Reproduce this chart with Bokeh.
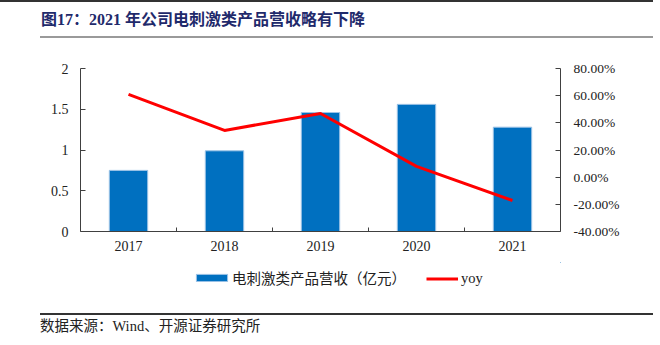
from bokeh.plotting import figure
from bokeh.models import (Range1d, LinearAxis, FixedTicker, PrintfTickFormatter,
                          Legend, LegendItem, Div, ColumnDataSource)
from bokeh.layouts import column
from bokeh.embed import file_html
from bokeh.resources import INLINE

# ---- data ----
years = ["2017", "2018", "2019", "2020", "2021"]
revenue = [0.75, 0.99, 1.46, 1.56, 1.28]          # 电刺激类产品营收（亿元）
yoy = [61.0, 34.4, 46.9, 7.9, -17.2]              # yoy, %
left_ticks = [0, 0.5, 1, 1.5, 2]
left_labels = ["0", "0.5", "1", "1.5", "2"]
right_ticks = [-40, -20, 0, 20, 40, 60, 80]

title_text = "图17：2021 年公司电刺激类产品营收略有下降"
source_text = "数据来源：Wind、开源证券研究所"
bar_label = "电刺激类产品营收（亿元）"
line_label = "yoy"

BAR_FILL = "#0070C0"
BAR_EDGE = "#9DC3E6"
LINE_RED = "#FF0000"

xs = list(range(len(years)))
src = ColumnDataSource(dict(x=xs, rev=revenue, yoy=yoy))

SERIF = "Liberation Serif"
CJK = "'Liberation Serif', 'Noto Sans CJK SC'"

p = figure(width=660, height=217, x_range=Range1d(-0.5, len(years) - 0.5),
           y_range=Range1d(0, 2), output_backend="svg", toolbar_location=None,
           min_border_left=80, min_border_right=100, min_border_top=23,
           min_border_bottom=31)
p.outline_line_color = None
p.xgrid.visible = False
p.ygrid.visible = False
p.extra_y_ranges = {"yoy": Range1d(-40, 80)}

bars = p.vbar(x="x", top="rev", width=0.4, source=src, fill_color=BAR_FILL,
              line_color=BAR_EDGE, line_width=1)
ln = p.line(x="x", y="yoy", source=src, y_range_name="yoy", line_color=LINE_RED,
            line_width=3)

AX = "#404040"
# x axis
xa = p.xaxis[0]
xa.ticker = FixedTicker(ticks=xs, minor_ticks=[i + 0.5 for i in xs[:-1]])
xa.major_label_overrides = {i: y for i, y in zip(xs, years)}
xa.major_tick_in = 0
xa.major_tick_out = 0
xa.minor_tick_in = 4
xa.minor_tick_out = 0
xa.minor_tick_line_color = AX
xa.axis_line_color = AX
xa.major_label_standoff = 9
xa.major_label_text_font = SERIF
xa.major_label_text_font_size = "14px"
xa.major_label_text_color = "#222222"

# left axis
ya = p.yaxis[0]
ya.ticker = FixedTicker(ticks=left_ticks)
ya.major_label_overrides = {t: l for t, l in zip(left_ticks, left_labels)}
ya.major_tick_in = 5
ya.major_tick_out = 0
ya.minor_tick_line_color = None
ya.axis_line_color = AX
ya.major_tick_line_color = AX
ya.major_label_standoff = 12
ya.major_label_text_font = SERIF
ya.major_label_text_font_size = "14px"
ya.major_label_text_color = "#222222"

# right axis
ra = LinearAxis(y_range_name="yoy", ticker=FixedTicker(ticks=right_ticks),
                formatter=PrintfTickFormatter(format="%.2f%%"))
ra.major_tick_in = 5
ra.major_tick_out = 0
ra.minor_tick_line_color = None
ra.axis_line_color = AX
ra.major_tick_line_color = AX
ra.major_label_standoff = 13
ra.major_label_text_font = SERIF
ra.major_label_text_font_size = "13.5px"
ra.major_label_text_color = "#222222"
p.add_layout(ra, "right")

# ---- legend strip: a small figure whose frame is aligned with the main one ----
# its own renderers share the data but lie outside its (empty) view window
p2 = figure(width=660, height=33, output_backend="svg", toolbar_location=None,
            x_axis_location=None, y_axis_location=None, min_border=0,
            x_range=Range1d(-10, -9), y_range=Range1d(-10, -9))
p2.outline_line_color = None
p2.grid.visible = False
lb = p2.vbar(x="x", top="rev", width=0.4, source=src, fill_color=BAR_FILL,
             line_color=BAR_EDGE, line_width=1)
ll = p2.line(x="x", y="yoy", source=src, line_color=LINE_RED, line_width=3)

common = dict(orientation="horizontal", padding=0, margin=0, border_line_color=None,
              background_fill_alpha=0, label_height=20,
              label_text_font=CJK, label_text_font_size="14.5px",
              label_text_color="#222222")
FRAME_LEFT = 80
leg1 = Legend(items=[LegendItem(label=bar_label, renderers=[lb])],
              location=(192 - FRAME_LEFT, 7), glyph_width=39, glyph_height=9,
              label_standoff=1, **common)
leg2 = Legend(items=[LegendItem(label=line_label, renderers=[ll])],
              location=(426 - FRAME_LEFT, 7), glyph_width=32, glyph_height=9,
              label_standoff=3, **common)
p2.add_layout(leg1, "center")
p2.add_layout(leg2, "center")

top_html = (
    '<div style="position:relative;width:660px;height:45px;">'
    '<div style="position:absolute;left:0;top:0;width:653px;height:2px;background:#333;"></div>'
    f'<div style="position:absolute;left:41px;top:10px;white-space:nowrap;font-family:{CJK};'
    f'font-weight:bold;font-size:16px;line-height:20px;color:#1F2A6B;">{title_text}</div>'
    '<div style="position:absolute;left:40px;top:36px;width:613px;height:2px;background:#9a9a9a;"></div>'
    '</div>'
)
bottom_html = (
    '<div style="position:relative;width:660px;height:50px;">'
    '<div style="position:absolute;left:40px;top:18px;width:613px;height:2px;background:#333;"></div>'
    f'<div style="position:absolute;left:40px;top:22px;white-space:nowrap;font-family:{CJK};'
    f'font-size:14.5px;line-height:18px;color:#222;">{source_text}</div>'
    '</div>'
)
top = Div(text=top_html, width=660, height=45, margin=(0, 0, 0, 0))
bottom = Div(text=bottom_html, width=660, height=50, margin=(0, 0, 0, 0))

layout = column(top, p, p2, bottom, spacing=0, margin=(0, 0, 0, 0))
open("out.html", "w").write(file_html(layout, INLINE))
